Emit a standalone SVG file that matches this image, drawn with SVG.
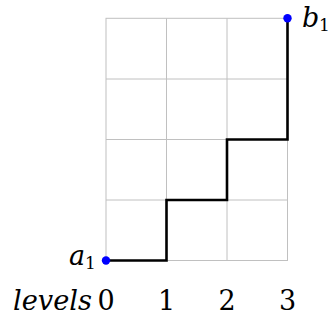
<svg xmlns="http://www.w3.org/2000/svg" width="329" height="320" viewBox="0 0 329 320">
<style>
.grid{stroke:#c0c0c0;stroke-width:1;fill:none}
.path{stroke:#000;stroke-width:2.6;fill:none;stroke-linejoin:miter}
.dot{fill:#0000ff}
.it{font-family:"DejaVu Serif","Liberation Serif",serif;font-style:italic;font-size:27px;fill:#000}
.num{font-family:"DejaVu Serif","Liberation Serif",serif;font-size:27px;fill:#000;text-anchor:middle}
.sub{font-family:"DejaVu Serif","Liberation Serif",serif;font-size:17px;fill:#000}
</style>
<g id="grid" class="grid">
<rect x="106" y="18.3" width="181.5" height="242.2"/>
<line x1="166.5" y1="18.3" x2="166.5" y2="260.5"/>
<line x1="227" y1="18.3" x2="227" y2="260.5"/>
<line x1="106" y1="79" x2="287.5" y2="79"/>
<line x1="106" y1="139.5" x2="287.5" y2="139.5"/>
<line x1="106" y1="200" x2="287.5" y2="200"/>
</g>
<g id="connectors">
<polyline class="path" points="106,260.5 166.5,260.5 166.5,200 227,200 227,139.5 287.5,139.5 287.5,18.3"/>
</g>
<g id="a1">
<circle class="dot" cx="106" cy="260.5" r="4.2"/>
<text class="it" x="69" y="265">a</text>
<text class="sub" x="85" y="269">1</text>
</g>
<g id="b1">
<circle class="dot" cx="287.5" cy="18.3" r="4.2"/>
<text class="it" x="302" y="27">b</text>
<text class="sub" x="319" y="31">1</text>
</g>
<g id="levels">
<text class="it" x="13" y="310" textLength="79" lengthAdjust="spacingAndGlyphs">levels</text>
<text class="num" x="106" y="310">0</text>
<text class="num" x="166.5" y="310">1</text>
<text class="num" x="227" y="310">2</text>
<text class="num" x="287.5" y="310">3</text>
</g>
</svg>
